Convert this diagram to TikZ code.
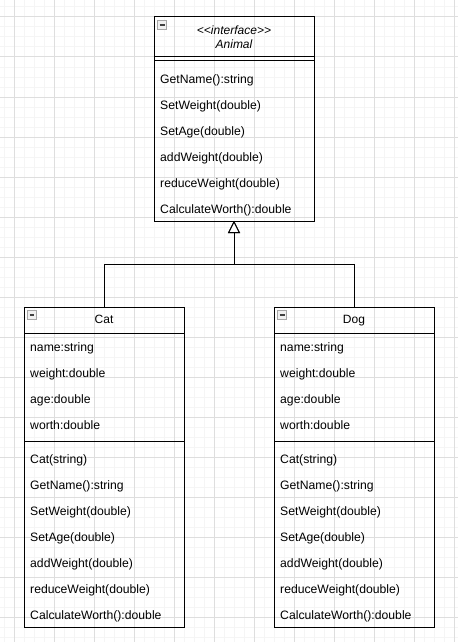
\documentclass[tikz,border=0pt]{standalone}
\usepackage{fontspec}
\setmainfont{Liberation Sans}
\usepackage{tikz}
\usetikzlibrary{positioning}
\usetikzlibrary{arrows.meta}
\definecolor{gridmajor}{HTML}{DEDEDE}
\definecolor{gridminor}{HTML}{F5F5F5}
\tikzstyle{classbox}=[rectangle,draw=black,line width=1pt,minimum width=160pt,inner sep=0pt,outer sep=0pt,font=\fontsize{12}{14}\selectfont]
\tikzstyle{member}=[anchor=base west,inner sep=0pt,font=\fontsize{12.2}{14}\selectfont]
\tikzstyle{inherit}=[draw,line width=1pt,-{Triangle[open,fill=white,length=12pt,width=12pt]}]
\tikzset{collapse/.style={rectangle,draw=gray!70,fill=gray!12,line width=0.8pt,minimum size=9pt,inner sep=0pt,outer sep=0pt,text=black!75}}

\begin{document}
\begin{tikzpicture}[x=1pt,y=-1pt]

  \useasboundingbox (0,0) rectangle (458,642);

%grid
  \foreach \x in {4,14,...,454}
          \draw[gridminor,line width=1pt] (\x,0) -- (\x,642);
  \foreach \y in {7,17,...,637}
          \draw[gridminor,line width=1pt] (0,\y) -- (458,\y);
  \foreach \x in {14,54,...,454}
          \draw[gridmajor,line width=1pt] (\x,0) -- (\x,642);
  \foreach \y in {17,57,...,617}
          \draw[gridmajor,line width=1pt] (0,\y) -- (458,\y);

%interface
  \node[classbox,minimum height=40pt,align=center,font=\itshape\fontsize{12}{14}\selectfont] (animalhead) at (234,37) {<\kern0pt<interface>\kern0pt>\\Animal};
  \node[classbox,minimum height=4pt,below=0pt of animalhead] (animalattr) {};
  \node[classbox,minimum height=160pt,below=0pt of animalattr] (animalops) {};
  \node[collapse,anchor=north west] (animalicon) at ([xshift=3.5pt,yshift=-3.5pt]animalhead.north west) {\rule{5pt}{1.4pt}};

   \foreach \y/\name/\label in {83/getname/GetName():string, 109/setweight/SetWeight(double), 135/setage/SetAge(double), 161/addweight/addWeight(double), 187/reduceweight/reduceWeight(double), 213/worth/CalculateWorth():double}
          \node[member] (animal\name) at (160,\y) {\label};

%classes
  \foreach \cls/\title/\dx in {cat/Cat/0, dog/Dog/250} {
    \node[classbox,minimum height=26pt,text height=9pt,text depth=2.5pt] (\cls head) at (104+\dx,320) {\title};
    \node[classbox,minimum height=108pt,below=0pt of \cls head] (\cls attr) {};
    \node[classbox,minimum height=186pt,below=0pt of \cls attr] (\cls ops) {};
    \node[collapse,anchor=north west] (\cls icon) at ([xshift=3.5pt,yshift=-3.5pt]\cls head.north west) {\rule{5pt}{1.4pt}};

    \foreach \y/\name/\label in {351/name/name:string, 377/weight/weight:double, 403/age/age:double, 429/worth/worth:double}
          \node[member] (\cls\name) at (30+\dx,\y) {\label};

    \foreach \y/\name/\label in {463/ctor/Cat(string), 489/getname/GetName():string, 515/setweight/SetWeight(double), 541/setage/SetAge(double), 567/addweight/addWeight(double), 593/reduceweight/reduceWeight(double), 619/calcworth/CalculateWorth():double}
          \node[member] (\cls\name) at (30+\dx,\y) {\label};
  }

%generalization
  \coordinate (join) at (234,264);
  \foreach \source in {cathead, doghead}
         \path[inherit] (\source.north) |- (join) -- (animalops.south);

\end{tikzpicture}
\end{document}
